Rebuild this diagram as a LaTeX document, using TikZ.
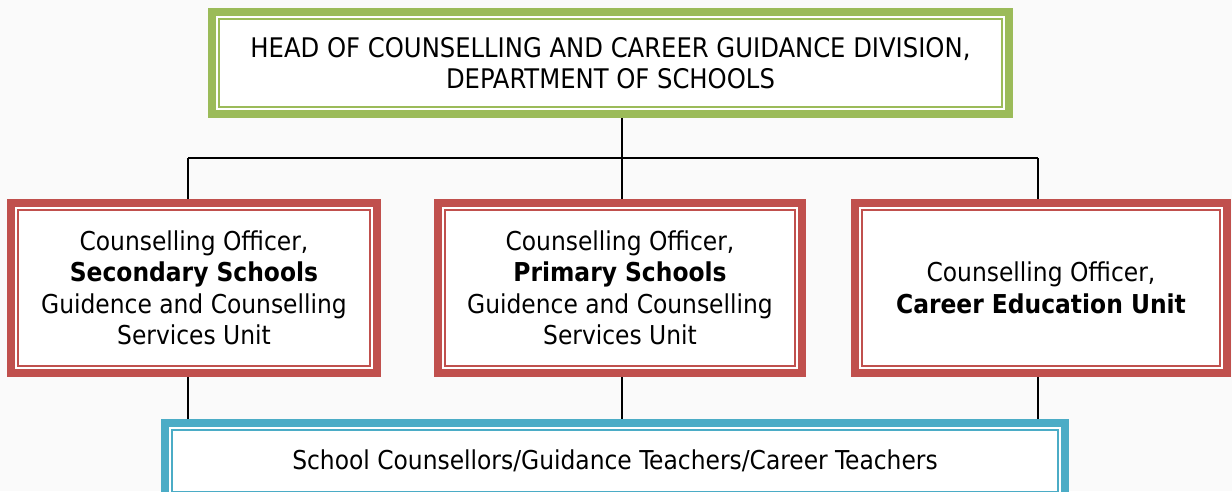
\documentclass[tikz,border=0pt]{standalone}
\usepackage{fontspec}
\setmainfont{DejaVu Sans Condensed}
\definecolor{bgc}{HTML}{FAFAFA}
\definecolor{grn}{HTML}{9BBB59}
\definecolor{rd}{HTML}{C0504D}
\definecolor{blu}{HTML}{4BACC6}
\pgfdeclarelayer{bg}
\pgfsetlayers{bg,main}
\begin{document}
\begin{tikzpicture}[x=1pt,y=-1pt,
  box/.style={rectangle, draw=#1, line width=8pt, fill=white, align=center, inner sep=0pt,
    font=\fontsize{26}{31.5}\selectfont,
    path picture={\draw[#1, line width=2pt]
      ([xshift=7pt,yshift=-7pt]path picture bounding box.north west) rectangle
      ([xshift=-7pt,yshift=7pt]path picture bounding box.south east);}},
  conn/.style={draw=black, line width=2pt}
]
\clip (0,0) rectangle (1232,491);
\node[box=grn, minimum width=797pt, minimum height=102pt, font=\fontsize{27}{31}\selectfont] (top) at (610.5,63)
  {HEAD OF COUNSELLING AND CAREER GUIDANCE DIVISION,\\DEPARTMENT OF SCHOOLS};
\node[box=rd, minimum width=366pt, minimum height=170pt] (sec) at (194,288)
  {Counselling Officer,\\\textbf{Secondary Schools}\\Guidence and Counselling\\Services Unit};
\node[box=rd, minimum width=364pt, minimum height=170pt] (pri) at (620,288)
  {Counselling Officer,\\\textbf{Primary Schools}\\Guidence and Counselling\\Services Unit};
\node[box=rd, minimum width=372pt, minimum height=170pt] (car) at (1041,288)
  {Counselling Officer,\\\textbf{Career Education Unit}};
\node[box=blu, minimum width=900pt, minimum height=76pt] (sch) at (615,461)
  {School Counsellors/Guidance Teachers/Career Teachers};
\coordinate (hub) at (622,158);
\coordinate (hl) at (188,158);
\coordinate (hr) at (1038,158);
\begin{pgfonlayer}{bg}
  \fill[bgc] (0,0) rectangle (1232,491);
  \draw[conn] (top.south -| hub) -- (hub);
  \draw[conn] (hl) -- (hr);
  \draw[conn] (hl) -- (sec.north -| hl);
  \draw[conn] (hub) -- (pri.north -| hub);
  \draw[conn] (hr) -- (car.north -| hr);
  \draw[conn] (sec.south -| hl) -- (sch.north -| hl);
  \draw[conn] (pri.south -| hub) -- (sch.north -| hub);
  \draw[conn] (car.south -| hr) -- (sch.north -| hr);
\end{pgfonlayer}
\end{tikzpicture}
\end{document}
